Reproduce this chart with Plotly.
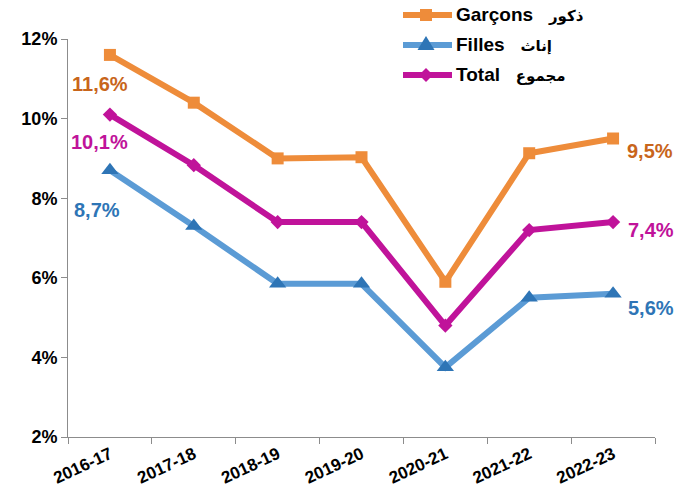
import plotly.graph_objects as go

years = ["2016-17", "2017-18", "2018-19", "2019-20", "2020-21", "2021-22", "2022-23"]
garcons = [11.6, 10.4, 9.0, 9.03, 5.9, 9.13, 9.5]
filles = [8.7, 7.3, 5.85, 5.85, 3.75, 5.5, 5.6]
total = [10.1, 8.83, 7.4, 7.4, 4.8, 7.2, 7.4]

names_fr = ["Garçons", "Filles", "Total"]
names_ar = ["ذكور", "إناث", "مجموع"]
line_colors = ["#EE8C3A", "#5B9BD5", "#C0139A"]
marker_colors = ["#EE8C3A", "#2E75B6", "#C0139A"]
label_colors = ["#C8651B", "#2E75B6", "#C0139A"]
symbols = ["square", "triangle-up", "diamond"]
sizes = [12, 15, 11]
series = [garcons, filles, total]

FONT = "Arial, 'Liberation Sans', 'DejaVu Sans', sans-serif"

W, H = 686, 491
ML, MR, MT, MB = 68, 31, 39, 54
PW, PH = W - ML - MR, H - MT - MB


def px(xp):
    return (xp - ML) / PW


def py(yp):
    return (H - MB - yp) / PH


fig = go.Figure()
for i, vals in enumerate(series):
    fig.add_trace(go.Scatter(
        x=years, y=vals, name=f"{names_fr[i]} {names_ar[i]}", mode="lines+markers",
        line=dict(color=line_colors[i], width=6),
        marker=dict(symbol=symbols[i], size=sizes[i], color=marker_colors[i]),
        showlegend=False,
    ))

# value labels at the first and last points of each series
first_shift = [(-10, -29), (-13, -40), (-10, -27)]
last_shift = [(37, -12), (38, -14), (38, -8)]
annotations = []
for i, vals in enumerate(series):
    for idx, (dx, dy) in ((0, first_shift[i]), (len(vals) - 1, last_shift[i])):
        annotations.append(dict(
            x=years[idx], y=vals[idx], xref="x", yref="y",
            text=f"{vals[idx]:.1f}%".replace(".", ","),
            showarrow=False, xshift=dx, yshift=dy,
            font=dict(family=FONT, size=20, color=label_colors[i], weight="bold"),
        ))

# legend: line sample with its marker, then the bilingual name
shapes = []
leg_x0, leg_x1, leg_mx, leg_tx = 403, 452, 426, 454
leg_y = [15, 45, 75]


def marker_path(kind, cx, cy):
    if kind == "square":
        s = 6
        pts = [(cx - s, cy - s), (cx + s, cy - s), (cx + s, cy + s), (cx - s, cy + s)]
    elif kind == "triangle-up":
        pts = [(cx - 8.5, cy + 5), (cx + 8.5, cy + 5), (cx, cy - 9)]
    else:
        pts = [(cx, cy - 7), (cx + 7, cy), (cx, cy + 7), (cx - 7, cy)]
    return "M" + " L".join(f"{px(a):.5f},{py(b):.5f}" for a, b in pts) + " Z"


for i in range(len(series)):
    yy = leg_y[i]
    shapes.append(dict(
        type="line", xref="paper", yref="paper",
        x0=px(leg_x0), x1=px(leg_x1), y0=py(yy), y1=py(yy),
        line=dict(color=line_colors[i], width=6),
    ))
    shapes.append(dict(
        type="path", xref="paper", yref="paper",
        path=marker_path(symbols[i], leg_mx, yy),
        fillcolor=marker_colors[i], line=dict(width=0),
    ))
    annotations.append(dict(
        x=px(leg_tx), y=py(yy), xref="paper", yref="paper",
        xanchor="left", yanchor="middle", showarrow=False,
        text=f"{names_fr[i]}\u00a0\u00a0\u00a0<span style='font-size:15px'>{names_ar[i]}</span>",
        font=dict(family=FONT, size=19, color="black", weight="bold"),
    ))

fig.update_layout(
    width=W, height=H,
    margin=dict(l=ML, r=MR, t=MT, b=MB, autoexpand=False),
    plot_bgcolor="white", paper_bgcolor="white",
    font=dict(family=FONT, color="black"),
    showlegend=False,
    annotations=annotations,
    shapes=shapes,
)
fig.update_xaxes(
    type="category", range=[-0.5, 6.5],
    showline=True, linecolor="#8C8C8C", linewidth=1,
    ticks="outside", tickson="boundaries", ticklen=6, tickcolor="#8C8C8C",
    showgrid=False, tickangle=-25,
    tickfont=dict(family=FONT, size=17, color="black", weight="bold"),
)
fig.update_yaxes(
    range=[2, 12], tickvals=[2, 4, 6, 8, 10, 12],
    ticktext=["2%", "4%", "6%", "8%", "10%", "12%"],
    showline=True, linecolor="#8C8C8C", linewidth=1,
    ticks="outside", ticklen=6, tickcolor="#8C8C8C",
    showgrid=False, zeroline=False,
    tickfont=dict(family=FONT, size=18, color="black", weight="bold"),
)

fig.write_html("out.html")
